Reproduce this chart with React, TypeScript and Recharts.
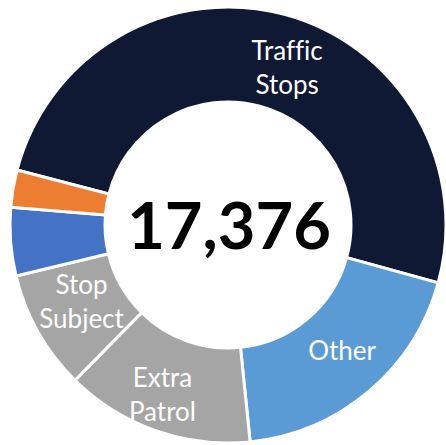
import { Cell, Label, Pie, PieChart } from 'recharts'

const NAMES = ['Traffic Stops', 'Other', 'Extra Patrol', 'Stop Subject', 'Suspicious', 'Warrant']
const COUNTS = [8726, 3320, 2433, 1540, 879, 478]
const SHOW_LABEL = [true, true, true, true, false, false]
const COLORS = ['#0F1934', '#5B9BD5', '#A5A5A5', '#A5A5A5', '#4472C4', '#ED7D31']
// small hand nudges so labels sit where the original placed them
const NUDGE: [number, number][] = [[15, 7], [4, -5], [-9, 8], [2, -8], [0, 0], [0, 0]]

const FONT = 'Lato, "Open Sans", sans-serif'
const RAD = Math.PI / 180
const CX = 228
const CY = 225

const data = NAMES.map((name, i) => ({ name, value: COUNTS[i], show: SHOW_LABEL[i], idx: i }))
const total = COUNTS.reduce((a, b) => a + b, 0)

type SliceLabelProps = {
  cx?: number; cy?: number; midAngle?: number; innerRadius?: number; outerRadius?: number
  payload?: { name: string; show: boolean; idx: number }
}

function SliceLabel (props: SliceLabelProps) {
  const { cx = 0, cy = 0, midAngle = 0, innerRadius = 0, outerRadius = 0, payload } = props
  if (!payload || !payload.show) return null
  const r = (innerRadius + outerRadius) / 2
  const [nx, ny] = NUDGE[payload.idx]
  const x = cx + r * Math.cos(-midAngle * RAD) + nx
  const y = cy + r * Math.sin(-midAngle * RAD) + ny
  const words = payload.name.split(' ')
  const lh = 34
  const y0 = y - ((words.length - 1) * lh) / 2
  return (
    <text x={x} y={y0} fill="#fff" fontSize={26} fontFamily={FONT} textAnchor="middle"
      dominantBaseline="central" style={{ fontVariantLigatures: 'none' }}>
      {words.map((w, i) => (
        <tspan key={w} x={x} y={y0 + i * lh}>{w}</tspan>
      ))}
    </text>
  )
}

export default function App () {
  return (
    <div style={{ position: 'absolute', left: 0, top: 0, width: 446, height: 445, background: '#fff' }}>
      <PieChart width={446} height={445} margin={{ top: 0, right: 0, bottom: 0, left: 0 }}>
        <Pie
          data={data}
          dataKey="value"
          nameKey="name"
          cx={CX}
          cy={CY}
          innerRadius={123}
          outerRadius={218}
          startAngle={165.4}
          endAngle={-194.6}
          stroke="#fff"
          strokeWidth={3}
          labelLine={false}
          label={(p: SliceLabelProps) => <SliceLabel {...p} />}
          isAnimationActive={false}
        >
          {data.map((d, i) => <Cell key={d.name} fill={COLORS[i]} />)}
          <Label
            position="center"
            content={() => (
              <text x={CX + 1} y={CY - 1} textAnchor="middle" dominantBaseline="central"
                fontFamily={FONT} fontWeight={700} fontSize={65} fill="#000">
                {total.toLocaleString('en-US')}
              </text>
            )}
          />
        </Pie>
      </PieChart>
    </div>
  )
}
